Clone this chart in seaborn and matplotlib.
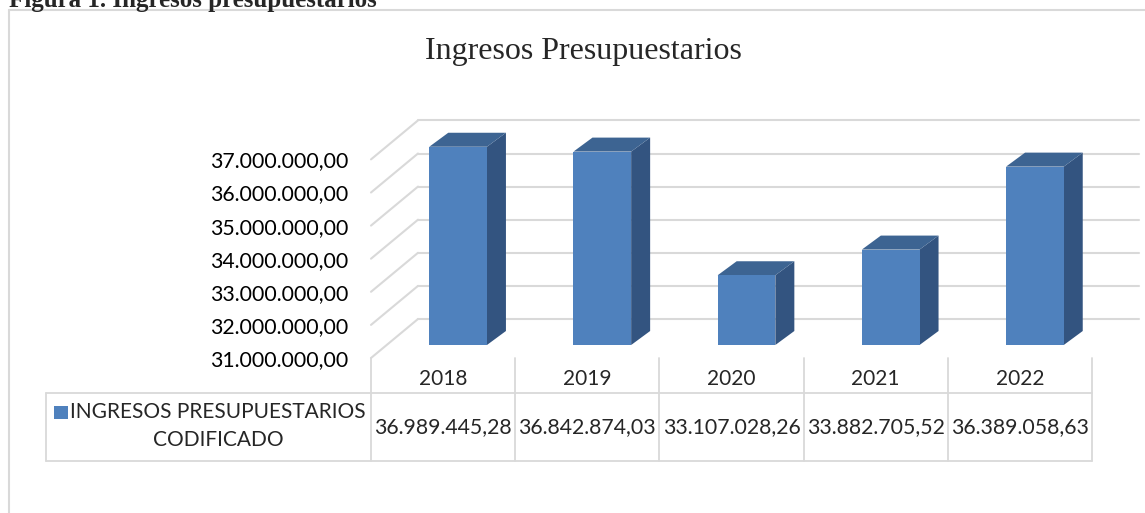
import numpy as np
import pandas as pd
import matplotlib.pyplot as plt
import seaborn as sns
from matplotlib.transforms import Affine2D, ScaledTranslation, IdentityTransform, blended_transform_factory
from matplotlib.patches import Polygon, Rectangle
from matplotlib.lines import Line2D

# Data
years = ["2018", "2019", "2020", "2021", "2022"]
values = [36989445.28, 36842874.03, 33107028.26, 33882705.52, 36389058.63]
y_ticks = [31000000, 32000000, 33000000, 34000000, 35000000, 36000000, 37000000]
series_lines = ["INGRESOS PRESUPUESTARIOS", "CODIFICADO"]
chart_title = "Ingresos Presupuestarios"
caption = "Figura 1. Ingresos presupuestarios"

# Style
FRONT = "#4F81BD"
TOP = "#3D6492"
SIDE = "#335480"
GRID = "#D9D9D9"
W, H = 1145, 513
BAR_OFF = np.array([15, 13])     # bar front face, pixels into the depth
BAR_DEPTH = np.array([19, 14])   # bar thickness
WALL = np.array([47, 39])        # back wall offset


def fmt(v):
    return f"{v:,.2f}".replace(",", "X").replace(".", ",").replace("X", ".")


sns.set_style("white")
plt.rcParams["font.family"] = ["Lato", "DejaVu Sans"]

fig = plt.figure(figsize=(W / 100, H / 100), dpi=100)
px = Affine2D().scale(1 / W, -1 / H).translate(0, 1) + fig.transFigure


def shift(d):
    return ScaledTranslation(d[0] / 100, d[1] / 100, fig.dpi_scale_trans)


ax = fig.add_axes([371 / W, (H - 358) / H, (1092 - 371) / W, 198.6 / H])
ax.set_facecolor("none")

df = pd.DataFrame({"year": years, "value": values})
sns.barplot(data=df, x="year", y="value", width=0.4, color=FRONT,
            saturation=1, linewidth=0, errorbar=None, ax=ax, zorder=5)
ax.set_xlim(-0.5, len(years) - 0.5)
ax.set_ylim(y_ticks[0], y_ticks[-1])
base = y_ticks[0]

# back wall gridlines + side wall diagonals
for v in y_ticks:
    ln = ax.axhline(v, color=GRID, lw=1.5, zorder=1)
    ln.set_transform(ln.get_transform() + shift(WALL))
    ln.set_clip_on(False)
    s = ax.transData.transform((-0.5, v))
    e = s + WALL
    fig.add_artist(Line2D([s[0], e[0]], [s[1], e[1]], transform=IdentityTransform(),
                          color=GRID, lw=1.5, zorder=1))

# pseudo 3d bars
for p in ax.patches:
    top = p.get_y() + p.get_height()
    p.set_y(base)
    p.set_height(top - base)
    p.set_transform(ax.transData + shift(BAR_OFF))
    p.set_clip_on(False)
    x0, x1 = p.get_x(), p.get_x() + p.get_width()
    ftl, ftr, fbr = ax.transData.transform([(x0, top), (x1, top), (x1, base)]) + BAR_OFF
    top_face = [ftl, ftr, ftr + BAR_DEPTH, ftl + BAR_DEPTH]
    side_face = [ftr, ftr + BAR_DEPTH, fbr + BAR_DEPTH, fbr]
    ax.add_patch(Polygon(side_face, closed=True, transform=IdentityTransform(),
                         facecolor=SIDE, edgecolor="none", clip_on=False, zorder=4))
    ax.add_patch(Polygon(top_face, closed=True, transform=IdentityTransform(),
                         facecolor=TOP, edgecolor="none", clip_on=False, zorder=4))

ax.set_yticks(y_ticks, labels=[fmt(v) for v in y_ticks])
ax.tick_params(axis="y", length=0, pad=16.5, labelsize=15.3, labelcolor="black")
ax.tick_params(axis="x", length=0, labelbottom=False)
ax.set_xlabel("")
ax.set_ylabel("")
for sp in ax.spines.values():
    sp.set_visible(False)
ax.grid(False)

# data table
colx = blended_transform_factory(ax.transData, px)
for i in range(len(years) + 1):
    fig.add_artist(Line2D([i - 0.5, i - 0.5], [358, 461], transform=colx, color=GRID, lw=1.3))
for yy in (393, 461):
    fig.add_artist(Line2D([46, 1092], [yy, yy], transform=px, color=GRID, lw=1.3))
fig.add_artist(Line2D([46, 46], [393, 461], transform=px, color=GRID, lw=1.3))

for i, (yr, v) in enumerate(zip(years, values)):
    fig.text(i, 379, yr, transform=colx, ha="center", va="center", fontsize=15)
    fig.text(i, 427, fmt(v), transform=colx, ha="center", va="center", fontsize=15.3)

fig.add_artist(Rectangle((54, 406), 14, 13, transform=px, facecolor=FRONT, edgecolor="none"))
fig.text(217.5, 412, series_lines[0], transform=px, ha="center", va="center", fontsize=15)
fig.text(218, 440, series_lines[1], transform=px, ha="center", va="center", fontsize=15)

# title, caption and frame
fig.text(583, 52, chart_title, transform=px, ha="center", va="center",
         fontsize=23, family="Liberation Serif")
fig.text(9, 7, caption, transform=px, ha="left", va="baseline",
         fontsize=18, fontweight="bold", family="Liberation Serif")
fig.add_artist(Line2D([9, 9], [10, H + 5], transform=px, color=GRID, lw=1.5))
fig.add_artist(Line2D([9, W + 5], [10, 10], transform=px, color=GRID, lw=1.5))

fig.savefig("out.png", dpi=100)
